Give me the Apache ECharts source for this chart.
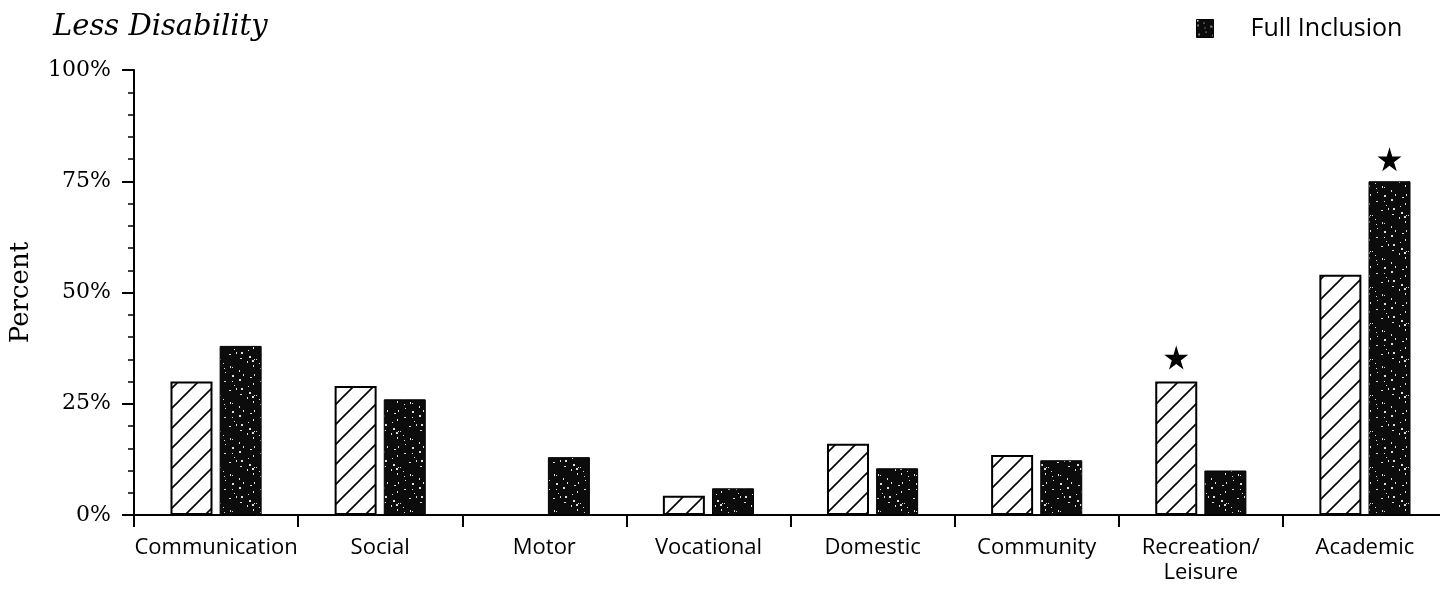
<!DOCTYPE html>
<html>
<head>
  <meta charset="utf-8">
  <title>Less Disability</title>
  <script src="https://cdn.jsdelivr.net/npm/echarts@6/dist/echarts.min.js"></script>
  <style>
    html, body { margin: 0; padding: 0; background: #fff; overflow: hidden; }
    #chart { width: 1452px; height: 592px; }
  </style>
</head>
<body>
<div id="chart"></div>
<script type="text/javascript">
  // data
  var categories = ['Communication', 'Social', 'Motor', 'Vocational', 'Domestic', 'Community', 'Recreation/\nLeisure', 'Academic'];
  var otherValues = [30, 29, 0, 4.3, 16, 13.5, 30, 54];      // hatched bars
  var inclusionValues = [38, 26, 13, 6, 10.5, 12.3, 10, 75]; // Full Inclusion
  var yTicks = [0, 25, 50, 75, 100];
  var starOther = [6];      // star above hatched bar, category index
  var starInclusion = [7];  // star above Full Inclusion bar

  // hatch pattern: white with thin diagonal lines
  function hatchPattern() {
    var c = document.createElement('canvas');
    c.width = 20; c.height = 20;
    var g = c.getContext('2d');
    g.fillStyle = '#fff';
    g.fillRect(0, 0, 20, 20);
    g.strokeStyle = '#000';
    g.lineWidth = 1.6;
    g.beginPath();
    g.moveTo(-2, 22); g.lineTo(22, -2);
    g.moveTo(-2, 2); g.lineTo(2, -2);
    g.moveTo(18, 22); g.lineTo(22, 18);
    g.stroke();
    return c;
  }

  // speckle pattern: near black with a few white flecks
  function specklePattern() {
    var c = document.createElement('canvas');
    c.width = 36; c.height = 36;
    var g = c.getContext('2d');
    g.fillStyle = '#0c0c0c';
    g.fillRect(0, 0, 36, 36);
    g.fillStyle = '#ddd';
    for (var i = 0; i < 26; i++) {
      var x = (i * 17 + (i * i) % 11) % 36;
      var y = (i * 23 + (i * 7) % 5) % 36;
      g.fillRect(x, y, (i % 3 === 0) ? 2 : 1, (i % 2 === 0) ? 2 : 1);
    }
    return c;
  }

  var starPath = 'path://M50,0 L61,35 L98,35 L68,57 L79,91 L50,70 L21,91 L32,57 L2,35 L39,35 Z';

  function stars(idx, vals) {
    return idx.map(function (i) {
      return { coord: [i, vals[i]] };
    });
  }

  var speckle = { image: specklePattern(), repeat: 'repeat' };

  var chart = echarts.init(document.getElementById('chart'));
  chart.setOption({
    animation: false,
    title: {
      text: 'Less Disability',
      left: 48,
      top: 8,
      textStyle: {
        fontFamily: 'DejaVu Serif',
        fontStyle: 'italic',
        fontWeight: 'normal',
        fontSize: 29,
        color: '#000'
      }
    },
    legend: {
      data: [{ name: 'Full Inclusion', icon: 'rect', itemStyle: { color: speckle, borderColor: '#000', borderWidth: 1 } }],
      left: 1191,
      top: 11,
      itemWidth: 17,
      itemHeight: 18,
      textStyle: { fontFamily: 'Open Sans', fontSize: 25, color: '#000', padding: [0, 0, 0, 32] }
    },
    grid: { left: 133, right: 5, top: 70, bottom: 77 },
    xAxis: {
      type: 'category',
      data: categories,
      axisLine: { lineStyle: { color: '#000', width: 2 } },
      axisTick: { show: true, length: 12, lineStyle: { color: '#000', width: 2 } },
      axisLabel: {
        interval: 0,
        margin: 20,
        fontFamily: 'Open Sans',
        fontSize: 22,
        color: '#000',
        lineHeight: 25
      }
    },
    yAxis: {
      type: 'value',
      min: yTicks[0],
      max: yTicks[yTicks.length - 1],
      interval: 25,
      name: 'Percent',
      nameLocation: 'middle',
      nameGap: 100,
      nameRotate: 90,
      nameTextStyle: { fontFamily: 'DejaVu Serif', fontSize: 26, color: '#000' },
      axisLine: { show: true, lineStyle: { color: '#000', width: 2 } },
      axisTick: { show: true, length: 12, lineStyle: { color: '#000', width: 2 } },
      minorTick: { show: true, splitNumber: 5, length: 6, lineStyle: { color: '#000', width: 1.5 } },
      splitLine: { show: false },
      axisLabel: {
        margin: 23,
        fontFamily: 'DejaVu Serif',
        fontSize: 22,
        color: '#000',
        formatter: '{value}%'
      }
    },
    series: [
      {
        name: 'Other',
        type: 'bar',
        barWidth: 42,
        barGap: '17%',
        data: otherValues,
        itemStyle: {
          color: { image: hatchPattern(), repeat: 'repeat' },
          borderColor: '#000',
          borderWidth: 2
        },
        markPoint: {
          symbol: starPath,
          symbolSize: 24,
          symbolOffset: [0, -24],
          itemStyle: { color: '#000' },
          label: { show: false },
          data: stars(starOther, otherValues)
        }
      },
      {
        name: 'Full Inclusion',
        type: 'bar',
        barWidth: 42,
        data: inclusionValues,
        itemStyle: {
          color: speckle,
          borderColor: '#000',
          borderWidth: 1
        },
        markPoint: {
          symbol: starPath,
          symbolSize: 24,
          symbolOffset: [0, -22],
          itemStyle: { color: '#000' },
          label: { show: false },
          data: stars(starInclusion, inclusionValues)
        }
      }
    ]
  });
</script>
</body>
</html>
